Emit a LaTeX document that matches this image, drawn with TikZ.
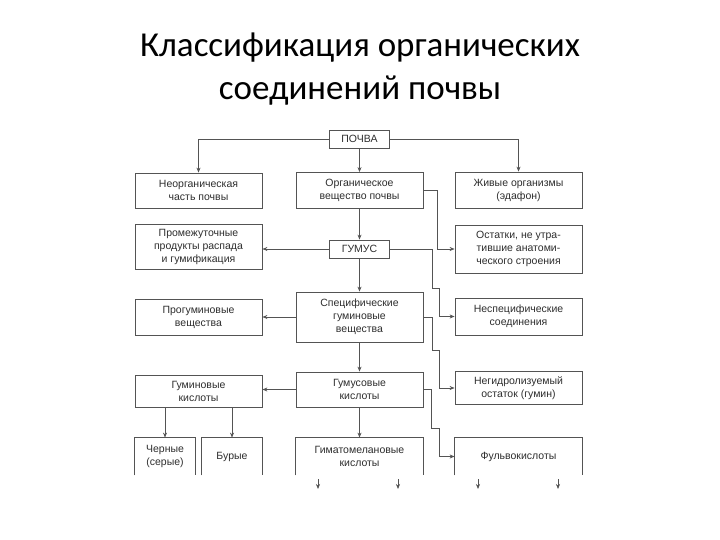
\documentclass[tikz,border=0pt]{standalone}
\usepackage{fontspec}
\setmainfont{Liberation Sans}
\newfontfamily\titlefont{Carlito}
\usetikzlibrary{arrows.meta}
\definecolor{ln}{gray}{0.33}
\definecolor{tx}{gray}{0.18}
\begin{document}
\begin{tikzpicture}[x=1pt,y=-1pt,
  box/.style={draw=ln, line width=0.8pt, minimum width=127pt, inner sep=0pt, align=center,
    text=tx, font=\fontsize{10.5}{13}\selectfont},
  small/.style={box, minimum width=60pt, minimum height=18pt},
  openbox/.style={box, draw=none},
  arr/.style={draw=ln, line width=0.7pt, -{Stealth[length=5pt,width=4pt]}},
  ln/.style={draw=ln, line width=0.8pt}]
\useasboundingbox[fill=white] (0,0) rectangle (720,540);
% title
\node[font=\titlefont\fontsize{35}{35}\selectfont, anchor=base] (t1) at (360,57) {Классификация органических};
\node[font=\titlefont\fontsize{35}{35}\selectfont, anchor=base] (t2) at (360,100) {соединений почвы};
% nodes
\node[small] (pochva) at (359.5,139) {ПОЧВА};
\node[box, minimum height=35pt] (neorg) at (198.5,190.5) {Неорганическая\\часть почвы};
\node[box, minimum height=36pt] (org) at (359.5,190.5) {Органическое\\вещество почвы};
\node[box, minimum height=36pt] (zhiv) at (518.5,190) {Живые организмы\\(эдафон)};
\node[box, minimum height=45pt] (prom) at (198.5,246.5) {Промежуточные\\продукты распада\\и гумификация};
\node[small] (gumus) at (359.5,249) {ГУМУС};
\node[box, minimum height=48pt] (ost) at (518.5,249) {Остатки, не утра-\\тившие анатоми-\\ческого строения};
\node[box, minimum height=36pt] (progum) at (198.5,317) {Прогуминовые\\вещества};
\node[box, minimum height=50pt] (spec) at (359.5,317) {Специфические\\гуминовые\\вещества};
\node[box, minimum height=37pt] (nespec) at (518.5,316.5) {Неспецифические\\соединения};
\node[box, minimum height=32pt] (gumin) at (198.5,391) {Гуминовые\\кислоты};
\node[box, minimum height=35pt] (gumsv) at (359.5,389.5) {Гумусовые\\кислоты};
\node[box, minimum height=33pt] (negid) at (518.5,388) {Негидролизуемый\\остаток (гумин)};
\node[openbox, minimum width=60pt, minimum height=37pt] (chern) at (165,456.5) {Черные\\(серые)};
\node[openbox, minimum width=60pt, minimum height=37pt] (bur) at (232,456.5) {Бурые};
\node[openbox, minimum height=37pt] (gimat) at (359.5,456.5) {Гиматомелановые\\кислоты};
\node[openbox, minimum height=37pt] (fulvo) at (518.5,456.5) {Фульвокислоты};
% open bottom boxes
\foreach \b in {chern,bur,gimat,fulvo}
  \draw[ln] (\b.south west) -- (\b.north west) -- (\b.north east) -- (\b.south east);
% connectors
\draw[arr] (pochva.west) -| (neorg.north);
\draw[arr] (pochva.east) -| (zhiv.north);
\draw[arr] (pochva.south) -- (org.north);
\draw[arr] (org.south) -- (gumus.north);
\draw[arr] (org.east) -- (437,190.5) |- (ost.west);
\draw[arr] (gumus.west) -- (gumus.west -| prom.east);
\draw[arr] (gumus.east) -- (432,249) -- (432,288) -- (439,288) |- (nespec.west);
\draw[arr] (gumus.south) -- (spec.north);
\draw[arr] (spec.west) -- (spec.west -| progum.east);
\draw[arr] (spec.east) -- (432,317) -- (432,350) -- (439,350) |- (negid.west);
\draw[arr] (spec.south) -- (gumsv.north);
\draw[arr] (gumsv.west) -- (gumsv.west -| gumin.east);
\draw[arr] (gumsv.east) -- (431,389.5) -- (431,428) -- (439,428) |- (fulvo.west);
\draw[arr] (gumsv.south) -- (gimat.north);
\draw[arr] (gumin.south -| chern.north) -- (chern.north);
\draw[arr] (gumin.south -| bur.north) -- (bur.north);
% stubs below
\foreach \x/\n in {318/a,398/b,478/c,558/d}{
  \coordinate (s\n1) at (\x,479);
  \coordinate (s\n2) at (\x,489);
  \draw[arr, line width=0.6pt] (s\n1) -- (s\n2);
}
\end{tikzpicture}
\end{document}
